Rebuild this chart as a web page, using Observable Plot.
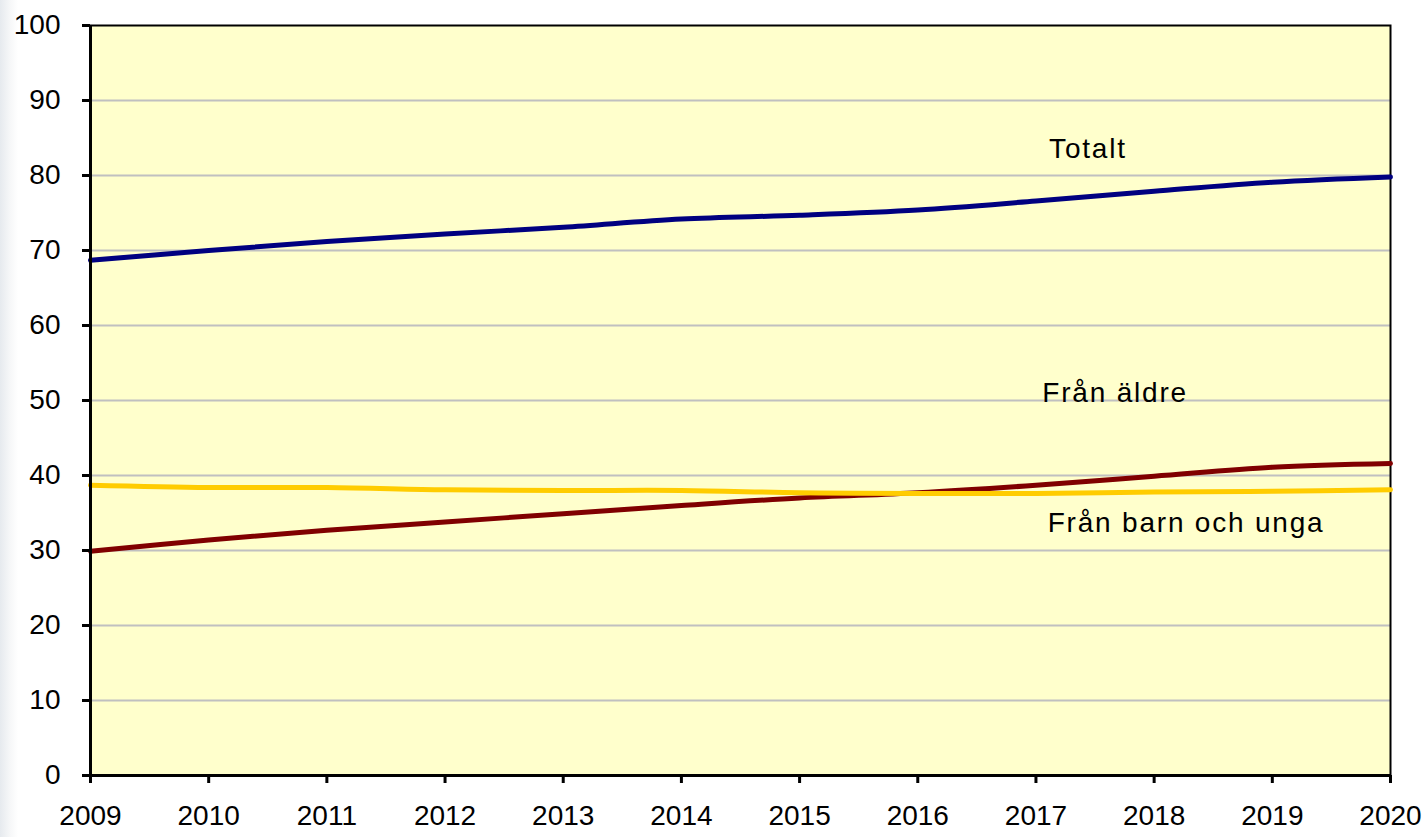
<!DOCTYPE html>
<html>
<head>
<meta charset="utf-8">
<script src="https://cdn.jsdelivr.net/npm/d3@7"></script>
<script src="https://cdn.jsdelivr.net/npm/@observablehq/plot@0.6"></script>
<style>
  html, body { margin: 0; padding: 0; background: #ffffff; }
  body { background: linear-gradient(to right, #e6eaee 0px, #f6f7f8 10px, #ffffff 18px); width: 1427px; height: 837px; overflow: hidden; }
  svg { display: block; background: transparent !important; }
</style>
</head>
<body>
<div id="chart"></div>
<script>
const years = [2009, 2010, 2011, 2012, 2013, 2014, 2015, 2016, 2017, 2018, 2019, 2020];
const totalt = [68.7, 70.0, 71.2, 72.2, 73.1, 74.2, 74.7, 75.4, 76.6, 77.9, 79.1, 79.8];
const franAldre = [29.9, 31.4, 32.7, 33.8, 34.9, 36.0, 37.0, 37.7, 38.7, 39.9, 41.1, 41.6];
const franBarnOchUnga = [38.7, 38.4, 38.4, 38.1, 38.0, 38.0, 37.7, 37.6, 37.6, 37.8, 37.9, 38.1];
const seriesNames = ["Totalt", "Från äldre", "Från barn och unga"];
const seriesColors = ["#000080", "#800000", "#FFCC00"];
const yTicks = [0, 10, 20, 30, 40, 50, 60, 70, 80, 90, 100];
const labelX = [2017.44, 2017.67, 2018.27];
const labelY = [83.5, 51.0, 33.6];

const seriesValues = [totalt, franAldre, franBarnOchUnga];
const rows = [];
seriesNames.forEach((name, i) => {
  years.forEach((yr, j) => rows.push({ series: name, year: yr, value: seriesValues[i][j] }));
});
const labels = seriesNames.map((name, i) => ({ name, x: labelX[i], y: labelY[i] }));

const chart = Plot.plot({
  width: 1427,
  height: 837,
  marginLeft: 90,
  marginRight: 37,
  marginTop: 25,
  marginBottom: 62,
  style: { fontFamily: "'Liberation Sans', Arial, sans-serif", fontSize: "28px", color: "#000", background: "transparent" },
  x: { domain: [2009, 2020], label: null },
  y: { domain: [0, 100], label: null },
  color: { domain: seriesNames, range: seriesColors },
  marks: [
    Plot.frame({ fill: "#FFFFCC", stroke: null }),
    Plot.gridY(yTicks.filter(d => d > 0 && d < 100), { stroke: "#c0c0c0", strokeOpacity: 1, strokeWidth: 2 }),
    Plot.frame({ stroke: "#000", strokeWidth: 2 }),
    Plot.line(rows, { x: "year", y: "value", stroke: "series", z: "series", strokeWidth: 5, curve: "catmull-rom", strokeLinecap: "round" }),
    Plot.ruleY([0], { stroke: "#000", strokeWidth: 3 }),
    Plot.ruleX([2009], { stroke: "#000", strokeWidth: 3 }),
    Plot.axisX({ ticks: years, tickFormat: d3.format("d"), tickSize: 8, tickPadding: 22, strokeWidth: 3, strokeOpacity: 1, fontSize: 28, label: null }),
    Plot.axisY({ ticks: yTicks, tickSize: 8, tickPadding: 22, strokeWidth: 3, strokeOpacity: 1, fontSize: 28, label: null }),
    Plot.text(labels, { x: "x", y: "y", text: "name", fontSize: 28, fill: "#000", textAnchor: "middle" })
  ]
});
d3.select(chart).selectAll('g[aria-label="text"]').attr("letter-spacing", "1.8px");
document.getElementById("chart").appendChild(chart);
</script>
</body>
</html>
